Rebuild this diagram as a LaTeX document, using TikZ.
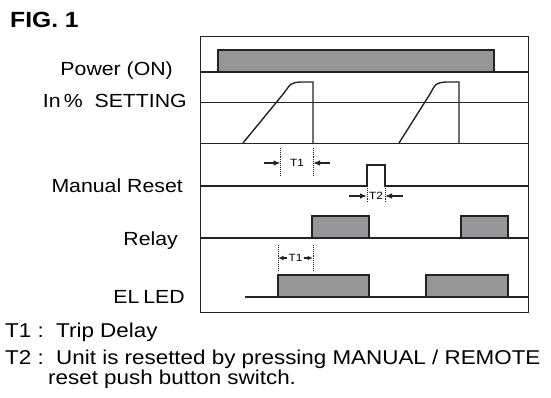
\documentclass[tikz,border=0pt]{standalone}
\usepackage{fontspec}
\setmainfont{Liberation Sans}[FakeStretch=1.12]
\usetikzlibrary{arrows.meta}
\definecolor{pulsegray}{RGB}{150,150,152}
\definecolor{ink}{RGB}{35,35,35}
\tikzset{
    timing/.style={
        x=1pt, y=-1pt,
        >={Latex[length=7pt,width=5.5pt]},
        frame/.style={draw=ink, line width=0.9pt},
        signal/.style={draw=ink, line width=1.4pt},
        pulse/.style={signal, fill=pulsegray},
        marker/.style={draw=ink, line width=0.9pt, densely dotted},
        dimarrow/.style={ink, line width=1.2pt, ->},
        rowlabel/.style={anchor=base east, inner sep=0pt, font=\fontsize{19}{22}\selectfont},
        note/.style={anchor=base west, inner sep=0pt, font=\fontsize{20}{23}\selectfont},
        tlabel/.style={inner sep=1pt, font=\fontsize{10.5}{12}\selectfont}
    }
}

\begin{document}
\begin{tikzpicture}[timing]
        \useasboundingbox (0,0) rectangle (551,398);

        % Title
        \node[anchor=base west, inner sep=0pt, font=\fontsize{22}{26}\selectfont\bfseries] (fig) at (10,28) {FIG. 1};

        % Frame and row lines
        \draw[frame] (200,36) rectangle (528,312);
        \foreach \y in {102,143} {
            \draw[frame] (200,\y) -- (528,\y);
        }

        % Row labels
        \foreach \x/\y/\n/\l in {173/75.5/pwr/Power (ON), 187/108/set/In\,\%\ \ SETTING, 183/193/rst/Manual Reset, 178/245/rly/Relay, 185/303/led/EL\kern4pt LED} {
            \node[rowlabel] (\n) at (\x,\y) {\l};
        }

        % Power
        \draw[signal] (200,72) -- (528,72);
        \draw[pulse] (218,72) rectangle (494,50);

        % In% setting
        \draw[signal] (243,143) -- (284,93) .. controls (291,83) .. (300,82) -- (313,82) -- (313,143);
        \draw[signal] (399,143) -- (430,94) .. controls (436,83) .. (446,82) -- (459,82) -- (459,143);

        % Manual reset
        \draw[signal] (200,186) -- (367,186) -- (367,165) -- (385,165) -- (385,186) -- (528,186);

        % Relay
        \draw[signal] (200,238) -- (528,238);
        \foreach \a/\b in {312/369, 461/508} {
            \draw[pulse] (\a,238) rectangle (\b,216);
        }

        % EL LED
        \draw[signal] (245,297) -- (528,297);
        \foreach \a/\b in {278/369, 426/508} {
            \draw[pulse] (\a,297) rectangle (\b,275);
        }

        % T1 on reset row
        \draw[marker] (280.5,148) -- (280.5,175);
        \draw[marker] (313,148) -- (313,175);
        \node[tlabel] (t1a) at (297,163) {T1};
        \coordinate (t1al) at (264,163);
        \coordinate (t1ar) at (330,163);
        \coordinate (t1am) at (280.5,163);
        \coordinate (t1an) at (313,163);
        \draw[dimarrow] (t1al) -- (t1am);
        \draw[dimarrow] (t1ar) -- (t1an);

        % T2
        \draw[marker] (367,188) -- (367,203);
        \draw[marker] (385,188) -- (385,203);
        \node[tlabel] (t2) at (376,196) {T2};
        \coordinate (t2l) at (349,196);
        \coordinate (t2r) at (403,196);
        \coordinate (t2m) at (367,196);
        \coordinate (t2n) at (385,196);
        \draw[dimarrow] (t2l) -- (t2m);
        \draw[dimarrow] (t2r) -- (t2n);

        % T1 on EL LED row
        \draw[marker] (278,245) -- (278,270);
        \draw[marker] (313,245) -- (313,270);
        \node[tlabel] (t1b) at (295.5,258) {T1};
        \coordinate (t1bm) at (278,258);
        \coordinate (t1bn) at (313,258);
        \draw[dimarrow, >={Latex[length=5.5pt,width=4.5pt]}] (t1b.west) -- (t1bm);
        \draw[dimarrow, >={Latex[length=5.5pt,width=4.5pt]}] (t1b.east) -- (t1bn);

        % Notes
        \node[note] (n1) at (5,337.5) {T1 :\ \ Trip Delay};
        \node[note] (n2) at (5,364.5) {T2 :\ \ Unit is resetted by pressing MANUAL / REMOTE};
        \node[note] (n3) at (48,384) {reset push button switch.};
\end{tikzpicture}
\end{document}
